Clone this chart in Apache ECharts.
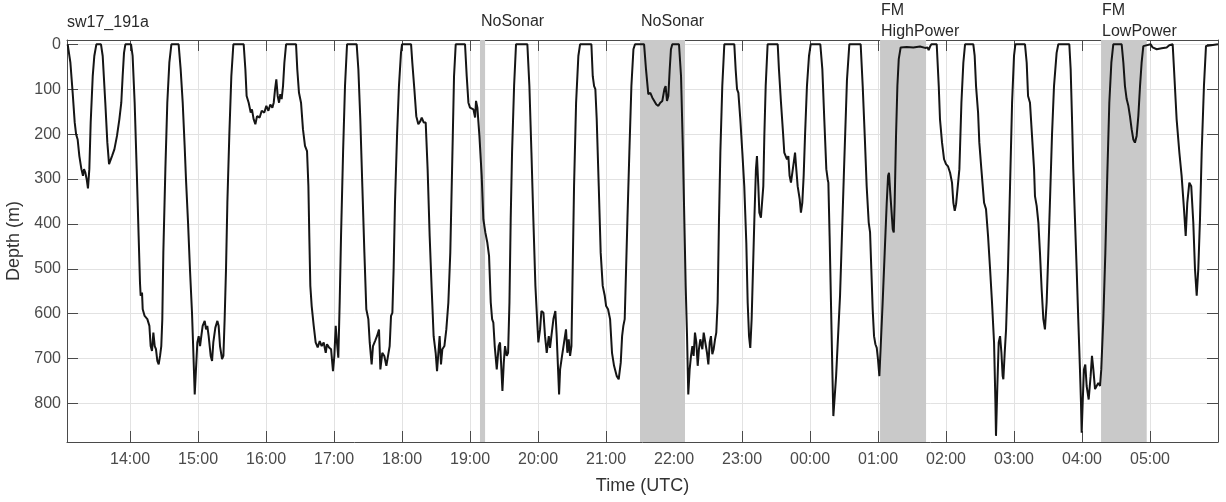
<!DOCTYPE html>
<html>
<head>
<meta charset="utf-8">
<title>sw17_191a dive profile</title>
<script src="https://cdn.jsdelivr.net/npm/echarts@6/dist/echarts.min.js"></script>
<style>
  html, body { margin: 0; padding: 0; background: #fff; }
  #chart { width: 1226px; height: 502px; }
</style>
</head>
<body>
<div id="chart"></div>
<script>
// Tag record sw17_191a: time in minutes after 13:00 UTC, depth in metres.
const diveProfile = [
  [5,0],[7.4,41],[9.4,108],[11.2,174],[12.4,200],[13.8,212],[15.3,249],[17.1,278],[18.5,293],[19.4,278],
  [20.6,286],[21.8,301],[22.9,321],[24.1,278],[25.3,174],[27.1,71],[28.5,26],[30.3,0],[34.4,0],[35.9,26],
  [38.2,130],[40,219],[41.5,267],[42.6,271],[44.1,249],[46.2,234],[48.5,204],[50.6,167],[52.3,130],[53.5,71],
  [54.7,19],[55.9,0],[60.9,0],[62.3,26],[64.1,130],[65.9,278],[67.6,427],[68.8,531],[69.4,560],[70.6,553],
  [71.2,590],[72.9,605],[75.3,612],[77.1,627],[78.2,672],[79.4,683],[80.6,642],[81.8,672],[82.9,679],[84.1,705],
  [85.3,713],[86.5,694],[87.6,672],[88.5,612],[89.4,464],[91.2,278],[92.9,130],[94.7,41],[96.5,0],[102.9,0],
  [104.7,56],[106.5,130],[108.2,226],[109.4,301],[111.2,397],[112.9,501],[114.7,598],[115.9,687],[117.1,780],[118.2,724],
  [119.4,664],[120.6,650],[121.8,672],[122.9,650],[124.1,627],[125.9,616],[127.1,635],[128.2,627],[129.4,650],[131.2,694],
  [132.4,705],[133.5,664],[135.3,631],[137.1,616],[138.2,627],[139.4,672],[141.2,701],[142.4,694],[143.5,612],[144.7,501],
  [145.9,353],[147.6,204],[149.4,71],[151.2,0],[160.3,0],[161.8,56],[162.9,115],[164.7,130],[166.5,152],[167.6,145],
  [169.1,167],[170.6,178],[172.1,160],[174.4,163],[176.2,148],[178.5,152],[180.3,137],[182.1,148],[183.8,134],[185.6,141],
  [186.8,130],[188,100],[189.1,78],[190.3,115],[191.5,130],[192.6,111],[193.8,122],[195,93],[196.2,41],[197.7,0],
  [206.5,0],[207.6,56],[209.1,108],[210.9,130],[212.6,189],[214.4,226],[216.2,238],[217.4,316],[218.2,427],[219.1,538],
  [220.3,583],[222.1,627],[223.8,664],[225.6,675],[227.4,661],[229.1,672],[230.9,664],[232.7,687],[233.8,668],[235.6,675],
  [237.4,679],[239.1,728],[240.3,694],[241.5,627],[242.6,664],[243.8,698],[245,575],[246.2,427],[248,241],[249.7,93],
  [251.5,0],[260,0],[261.5,56],[263.2,167],[265,316],[266.8,464],[268.5,590],[270.3,612],[271.5,664],[273.2,713],
  [274.4,672],[276.2,661],[277.9,650],[279.7,635],[280.9,724],[282.6,687],[284.4,694],[286.2,716],[287.9,716],[289.1,672],
  [290.3,605],[291.5,598],[292.6,501],[293.8,353],[295.6,204],[297.3,93],[299.1,19],[300,0],[308,0],[309.1,41],
  [310.9,100],[312.6,160],[314.4,178],[316.2,171],[317.4,163],[319.1,174],[320.9,174],[322.6,278],[324.4,427],[326.2,546],
  [327.9,650],[329.7,687],[330.9,728],[332.1,687],[333.2,650],[334.4,713],[335.6,679],[337.4,672],[339.1,635],[340.9,575],
  [342.6,464],[344.8,204],[345.9,71],[347.4,0],[355.6,0],[357.1,71],[358.6,130],[360,141],[361.5,137],[363,145],
  [364.5,163],[365.3,126],[366.5,141],[368.3,204],[370.3,293],[371.8,390],[373.6,420],[375.3,442],[376.8,471],[378.3,575],
  [379.5,612],[380.6,620],[381.8,672],[383.6,724],[385.3,672],[386.5,664],[387.7,724],[388.6,772],[389.8,709],[390.9,672],
  [392.4,694],[393.6,687],[394.8,575],[395.9,390],[397.1,241],[398.9,93],[400.6,0],[410.6,0],[412.4,93],[414.2,241],
  [415.9,390],[417.7,538],[419.5,627],[420.3,664],[421.8,635],[423,594],[424.8,598],[426.2,650],[427.7,687],[429.5,650],
  [430.6,676],[431.8,650],[433.6,612],[435.3,594],[436.5,650],[437.7,724],[438.6,780],[439.5,724],[441.2,694],[443,664],
  [444.7,635],[445.9,687],[447.1,657],[448.3,694],[449.5,672],[450.6,501],[451.8,316],[453.6,130],[455.6,26],[457.1,0],
  [467.1,0],[468.3,71],[469.5,93],[470.6,100],[471.8,167],[473.6,316],[475.3,464],[477.1,538],[478.9,560],[480.1,583],
  [481.8,590],[483.6,612],[485.3,687],[487.1,716],[489.5,739],[491.2,746],[493,709],[494.2,650],[495.3,627],[496.5,612],
  [497.7,501],[498.9,390],[500.6,241],[502.4,93],[504.2,11],[505.6,0],[513.6,0],[515.3,56],[517.3,111],[519.1,108],
  [520.9,119],[522.6,121],[524.4,134],[526.2,137],[527.9,130],[529.7,126],[531.5,100],[532.6,93],[533.8,126],[535,115],
  [536.2,56],[537.3,11],[538.5,0],[544.4,0],[546.2,71],[547.9,241],[549.1,390],[550.3,538],[551.5,650],[552.6,780],
  [553.8,724],[555,694],[556.2,672],[557.3,694],[558.5,642],[559.7,664],[560.9,716],[562,679],[563.2,657],[565,679],
  [566.2,642],[567.3,642],[569.1,687],[570.3,713],[571.5,664],[572.6,650],[573.8,690],[575,679],[576.2,657],[577.3,642],
  [578.5,575],[579.7,390],[580.9,241],[582.6,93],[584.4,0],[593.2,0],[594.4,56],[595.6,100],[596.8,108],[598.5,167],
  [600.3,241],[602,316],[603.8,442],[605,575],[606.2,650],[607.3,676],[608.5,612],[609.7,501],[610.9,390],[612.3,278],
  [613.2,249],[614.4,316],[615.3,375],[616.7,386],[617.9,382],[618.8,316],[619.7,204],[620.9,93],[622.6,0],[631.5,0],
  [632.6,56],[634.4,130],[636.2,197],[637.3,241],[638.5,238],[639.7,256],[640.9,249],[642,293],[643.2,308],[644.4,308],
  [645.6,264],[646.8,241],[647.9,278],[649.1,316],[650.9,345],[652,375],[653.2,353],[654.4,293],[655.6,204],[657.3,93],
  [659.1,26],[660.6,0],[669.1,0],[670.9,56],[672.6,167],[674.4,278],[675.6,301],[676.2,308],[677.3,427],[678.5,575],
  [679.7,724],[680.6,828],[683,740],[686.5,560],[690,280],[692.6,80],[694.7,0],[704.7,0],[706.5,93],[708.3,204],
  [710,316],[711.8,397],[713,419],[714.1,501],[715.3,590],[716.5,650],[717.7,668],[718.9,676],[720,702],[721.2,739],
  [722.4,672],[724.1,575],[725.9,464],[727.7,353],[728.9,293],[729.7,286],[730.6,323],[731.8,367],[733,412],[733.9,419],
  [734.7,353],[735.9,204],[737.1,93],[738.3,33],[740,7],[745.3,6],[751.2,7],[757.1,5],[761.5,8],[763.6,7],
  [764.7,13],[765.9,5],[767.1,0],[771.8,0],[773.6,93],[774.7,167],[776.5,219],[778.3,256],[780,267],[781.8,272],
  [783.6,286],[785.3,308],[786.5,353],[787.7,371],[788.9,356],[790.6,356],[791.8,278],[793.6,130],[795.3,41],[796.8,0],
  [804.1,0],[805.3,26],[806.5,93],[808.3,152],[809.4,219],[811.2,278],[813.6,353],[815.3,367],[817.1,427],[818.9,501],
  [820.6,575],[822.4,664],[823.6,798],[824.1,872],[825.3,761],[826.5,664],[827.7,650],[828.9,687],[830,739],[830.6,746],
  [831.8,687],[833,635],[834.7,501],[836.5,316],[838.3,130],[840,26],[841.2,0],[849.7,0],[851.2,41],[852.4,115],
  [854.1,130],[855.9,204],[857.7,278],[858.5,338],[860,360],[861.5,397],[862.9,464],[864.4,546],[865.9,612],[867.3,635],
  [868.8,575],[870.3,464],[871.7,353],[873.5,204],[875.3,93],[877.6,19],[879.1,0],[888.8,0],[890,56],[891.2,167],
  [892.3,278],[893.8,390],[895.3,501],[896.7,612],[898.2,724],[899.1,798],[899.7,865],[900.6,798],[901.7,724],[902.9,713],
  [904.1,761],[905.9,791],[907.6,739],[908.8,694],[910,724],[911.5,768],[912.9,761],[914.4,754],[915.9,761],[917,724],
  [918.8,612],[920.6,464],[922.3,293],[924.1,130],[925.9,41],[927.6,0],[935,0],[936.5,41],[937.9,93],[939.4,122],
  [940.9,137],[942.3,160],[943.8,189],[945.3,212],[946.7,219],[948.2,204],[949.7,160],[951.2,93],[952.6,41],[954.1,4],
  [955.6,0],[960.6,0],[962.3,7],[965.9,11],[970.3,9],[974.7,7],[977,2],[980,0],[981.2,56],[983.5,167],
  [985.9,241],[987.9,293],[990,367],[991.5,427],[992.9,353],[994.7,308],[996.4,316],[998.2,397],[999.7,501],[1001.2,560],
  [1002.6,501],[1004.1,390],[1005.6,241],[1007.6,93],[1009.4,4],[1010.6,0],[1020,0]
];

// Sonar treatment periods (minutes after 13:00 UTC)
const periodStart = [368.8, 510.0, 721.8, 916.8];
const periodEnd   = [373.3, 549.7, 762.4, 957.1];
const periodLabel = ['NoSonar', 'NoSonar', 'FM\nHighPower', 'FM\nLowPower'];

// Axis ticks
const hourTicks = [60, 120, 180, 240, 300, 360, 420, 480, 540, 600, 660, 720, 780, 840, 900, 960];
const depthTicks = [0, 100, 200, 300, 400, 500, 600, 700, 800];
const timeRange = [4.4, 1020];
const depthRange = [-9.6, 885.7];

const FONT = '"Liberation Sans", Arial, Helvetica, sans-serif';
const AXIS_COLOR = '#4a4a4a';
const GRID_COLOR = '#e2e2e2';

function hourLabel(m) {
  const h = (13 + Math.round(m / 60)) % 24;
  return String(h).padStart(2, '0') + ':00';
}

const chart = echarts.init(document.getElementById('chart'), null, { renderer: 'canvas' });

const boxAxis = (extra) => Object.assign({
  axisLine: { show: true, onZero: false, lineStyle: { color: AXIS_COLOR, width: 1 } },
  axisTick: { show: true, inside: true, length: 11, lineStyle: { color: AXIS_COLOR, width: 1 } },
  axisLabel: { show: false },
  splitLine: { show: false }
}, extra);

const option = {
  animation: false,
  backgroundColor: '#ffffff',
  textStyle: { fontFamily: FONT },
  title: {
    text: 'sw17_191a',
    left: 62, top: 10,
    textStyle: { fontFamily: FONT, fontSize: 16, fontWeight: 'normal', color: '#2a2a2a' }
  },
  grid: { left: 67, right: 8, top: 40, bottom: 60, containLabel: false, outerBoundsMode: 'none' },
  xAxis: [
    {
      type: 'value', position: 'bottom', min: timeRange[0], max: timeRange[1],
      name: 'Time (UTC)', nameLocation: 'middle', nameGap: 35,
      nameTextStyle: { fontFamily: FONT, fontSize: 18, color: '#333' },
      axisLine: { show: true, onZero: false, lineStyle: { color: AXIS_COLOR, width: 1 } },
      axisTick: { show: true, inside: true, length: 11, customValues: hourTicks, lineStyle: { color: AXIS_COLOR } },
      axisLabel: { customValues: hourTicks, formatter: hourLabel, color: AXIS_COLOR, fontSize: 16, fontFamily: FONT, margin: 10 },
      splitLine: { show: true, lineStyle: { color: GRID_COLOR, width: 1 } }
    },
    boxAxis({
      type: 'value', position: 'top', min: timeRange[0], max: timeRange[1],
      axisTick: { show: true, inside: true, length: 11, customValues: hourTicks, lineStyle: { color: AXIS_COLOR } }
    })
  ],
  yAxis: [
    {
      type: 'value', inverse: true, position: 'left', min: depthRange[0], max: depthRange[1],
      name: 'Depth (m)', nameLocation: 'middle', nameGap: 37, nameRotate: 90,
      nameTextStyle: { fontFamily: FONT, fontSize: 18, color: '#333' },
      axisLine: { show: true, onZero: false, lineStyle: { color: AXIS_COLOR, width: 1 } },
      axisTick: { show: true, inside: true, length: 11, customValues: depthTicks, lineStyle: { color: AXIS_COLOR } },
      axisLabel: { customValues: depthTicks, color: AXIS_COLOR, fontSize: 16, fontFamily: FONT, margin: 6 },
      splitLine: { show: true, lineStyle: { color: GRID_COLOR, width: 1 } }
    },
    boxAxis({
      type: 'value', inverse: true, position: 'right', min: depthRange[0], max: depthRange[1],
      axisTick: { show: true, inside: true, length: 11, customValues: depthTicks, lineStyle: { color: AXIS_COLOR } }
    })
  ],
  series: [
    {
      name: 'periods', type: 'line', data: [], z: 1, silent: true,
      markArea: {
        silent: true,
        itemStyle: { color: '#c9c9c9' },
        label: { show: false },
        data: periodStart.map((s, i) => [{ xAxis: s }, { xAxis: periodEnd[i] }])
      }
    },
    {
      name: 'depth', type: 'line', data: diveProfile, z: 3,
      showSymbol: false, symbol: 'none', smooth: false,
      lineStyle: { color: '#151515', width: 2 }
    }
  ]
};

chart.setOption(option);

// Period names written just above the plot, starting at each period's left edge
const annotations = periodLabel.map((txt, i) => {
  const x = chart.convertToPixel({ xAxisIndex: 0 }, periodStart[i]);
  const twoLines = txt.indexOf('\n') >= 0;
  return {
    type: 'text',
    x: x + 1,
    y: twoLines ? 0 : 11,
    silent: true,
    style: { text: txt, fill: '#2a2a2a', font: '16px ' + FONT, lineHeight: 21, verticalAlign: 'top', align: 'left' }
  };
});
chart.setOption({ graphic: annotations });
</script>
</body>
</html>
